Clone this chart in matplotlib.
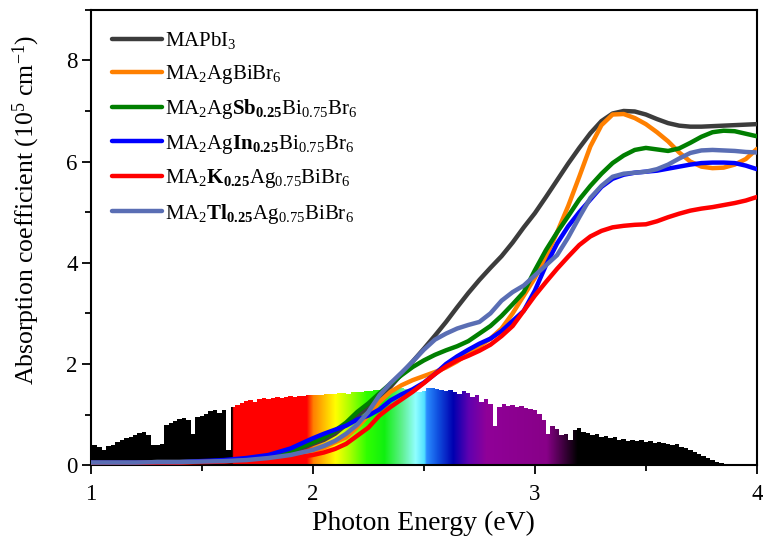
import numpy as np
import matplotlib
matplotlib.use("Agg")
import matplotlib.pyplot as plt
from matplotlib.colors import LinearSegmentedColormap
from matplotlib.ticker import MultipleLocator

plt.rcParams['font.family'] = ['Liberation Serif', 'DejaVu Serif']
plt.rcParams['mathtext.fontset'] = 'custom'
plt.rcParams['mathtext.rm'] = 'Liberation Serif'
plt.rcParams['mathtext.it'] = 'Liberation Serif:italic'
plt.rcParams['mathtext.bf'] = 'Liberation Serif:bold'

# photon energy grid for the absorption curves (eV)
energy = [1.0, 1.1, 1.2, 1.3, 1.4, 1.5, 1.6, 1.7, 1.8, 1.9,
          2.0, 2.05, 2.1, 2.15, 2.2, 2.25, 2.3, 2.35, 2.4, 2.45,
          2.5, 2.55, 2.6, 2.65, 2.7, 2.75, 2.8, 2.85, 2.9, 2.95,
          3.0, 3.05, 3.1, 3.15, 3.2, 3.25, 3.3, 3.35, 3.4, 3.45,
          3.5, 3.55, 3.6, 3.65, 3.7, 3.75, 3.8, 3.85, 3.9, 3.95, 4.0]

mapbi3 = [0.05, 0.05, 0.05, 0.06, 0.06, 0.07, 0.09, 0.11, 0.15, 0.25,
          0.42, 0.50, 0.62, 0.80, 0.97, 1.15, 1.34, 1.55, 1.80, 2.05,
          2.30, 2.56, 2.83, 3.12, 3.40, 3.66, 3.90, 4.13, 4.40, 4.70,
          4.98, 5.30, 5.63, 5.96, 6.27, 6.56, 6.80, 6.95, 7.00, 6.99,
          6.93, 6.84, 6.76, 6.71, 6.69, 6.69, 6.70, 6.71, 6.72, 6.73, 6.74]

agbi = [0.05, 0.05, 0.05, 0.06, 0.06, 0.07, 0.08, 0.10, 0.13, 0.19,
        0.28, 0.35, 0.45, 0.55, 0.75, 0.98, 1.25, 1.45, 1.58, 1.68,
        1.76, 1.84, 1.93, 2.05, 2.20, 2.35, 2.50, 2.70, 3.00, 3.35,
        3.70, 4.12, 4.60, 5.12, 5.70, 6.30, 6.72, 6.93, 6.94, 6.86,
        6.74, 6.58, 6.40, 6.18, 6.00, 5.90, 5.87, 5.88, 5.94, 6.05, 6.25]

sb = [0.05, 0.05, 0.05, 0.06, 0.06, 0.07, 0.09, 0.12, 0.17, 0.27,
      0.45, 0.55, 0.68, 0.84, 1.05, 1.22, 1.42, 1.61, 1.78, 1.94,
      2.07, 2.18, 2.27, 2.35, 2.45, 2.60, 2.75, 2.95, 3.18, 3.42,
      3.85, 4.25, 4.60, 4.92, 5.25, 5.52, 5.76, 5.97, 6.12, 6.23,
      6.27, 6.24, 6.21, 6.26, 6.37, 6.49, 6.58, 6.61, 6.60, 6.55, 6.50]

inn = [0.05, 0.05, 0.05, 0.06, 0.06, 0.08, 0.10, 0.14, 0.20, 0.33,
       0.53, 0.62, 0.70, 0.78, 0.90, 0.98, 1.10, 1.28, 1.40, 1.50,
       1.63, 1.80, 2.00, 2.15, 2.28, 2.40, 2.50, 2.65, 2.85, 3.05,
       3.45, 3.95, 4.38, 4.72, 5.00, 5.25, 5.50, 5.66, 5.74, 5.78,
       5.80, 5.82, 5.86, 5.90, 5.94, 5.97, 5.98, 5.98, 5.97, 5.92, 5.85]

k = [0.04, 0.04, 0.04, 0.05, 0.05, 0.06, 0.07, 0.09, 0.10, 0.14,
     0.20, 0.25, 0.32, 0.42, 0.58, 0.74, 0.98, 1.15, 1.30, 1.45,
     1.62, 1.80, 1.95, 2.07, 2.16, 2.26, 2.38, 2.55, 2.75, 3.05,
     3.35, 3.62, 3.88, 4.12, 4.35, 4.52, 4.63, 4.70, 4.73, 4.75,
     4.76, 4.82, 4.90, 4.97, 5.03, 5.07, 5.10, 5.14, 5.18, 5.23, 5.30]

tl = [0.05, 0.05, 0.05, 0.06, 0.06, 0.07, 0.08, 0.10, 0.14, 0.20,
      0.30, 0.38, 0.48, 0.62, 0.80, 1.05, 1.38, 1.62, 1.83, 2.05,
      2.28, 2.48, 2.60, 2.70, 2.77, 2.83, 3.00, 3.25, 3.42, 3.55,
      3.75, 3.95, 4.15, 4.50, 4.90, 5.28, 5.52, 5.70, 5.76, 5.78,
      5.80, 5.85, 5.94, 6.06, 6.17, 6.22, 6.23, 6.22, 6.21, 6.19, 6.18]

labels = [r'MAPbI$_3$',
          r'MA$_2$AgBiBr$_6$',
          r'MA$_2$Ag$\mathbf{Sb_{0.25}}$Bi$_{0.75}$Br$_6$',
          r'MA$_2$Ag$\mathbf{In_{0.25}}$Bi$_{0.75}$Br$_6$',
          r'MA$_2$$\mathbf{K_{0.25}}$Ag$_{0.75}$BiBr$_6$',
          r'MA$_2$$\mathbf{Tl_{0.25}}$Ag$_{0.75}$BiBr$_6$']
colors = ['#3c3c3c', '#ff8000', '#007f00', '#0000ff', '#ff0000', '#5a6eb4']

# solar spectrum (arb. units, scaled to the axis) vs photon energy
sun_e = [1.00, 1.02, 1.04, 1.06, 1.08, 1.10, 1.12, 1.14, 1.16, 1.18,
         1.20, 1.22, 1.24, 1.26, 1.28, 1.30, 1.32, 1.34, 1.36, 1.38,
         1.40, 1.42, 1.44, 1.46, 1.48, 1.50, 1.52, 1.54, 1.56, 1.58,
         1.60, 1.62, 1.64, 1.66, 1.68, 1.70, 1.72, 1.74, 1.76, 1.78,
         1.80, 1.82, 1.84, 1.86, 1.88, 1.90, 1.92, 1.94, 1.96, 1.98,
         2.00, 2.02, 2.04, 2.06, 2.08, 2.10, 2.12, 2.14, 2.16, 2.18,
         2.20, 2.22, 2.24, 2.26, 2.28, 2.30, 2.32, 2.34, 2.36, 2.38,
         2.40, 2.42, 2.44, 2.46, 2.48, 2.50, 2.52, 2.54, 2.56, 2.58,
         2.60, 2.62, 2.64, 2.66, 2.68, 2.70, 2.72, 2.74, 2.76, 2.78,
         2.80, 2.82, 2.84, 2.86, 2.88, 2.90, 2.92, 2.94, 2.96, 2.98,
         3.00, 3.02, 3.04, 3.06, 3.08, 3.10, 3.12, 3.14, 3.16, 3.18,
         3.20, 3.22, 3.24, 3.26, 3.28, 3.30, 3.32, 3.34, 3.36, 3.38,
         3.40, 3.42, 3.44, 3.46, 3.48, 3.50, 3.52, 3.54, 3.56, 3.58,
         3.60, 3.62, 3.64, 3.66, 3.68, 3.70, 3.72, 3.74, 3.76, 3.78,
         3.80, 3.82, 3.84, 3.86, 3.88]
sun_i = [0.39, 0.40, 0.36, 0.30, 0.38, 0.40, 0.46, 0.50, 0.53, 0.56,
         0.60, 0.63, 0.66, 0.60, 0.40, 0.39, 0.42, 0.80, 0.84, 0.88,
         0.92, 0.94, 0.90, 0.62, 0.95, 0.98, 1.02, 1.06, 1.08, 1.04,
         1.08, 0.30, 1.14, 1.18, 1.22, 1.26, 1.28, 1.24, 1.30, 1.32,
         1.30, 1.33, 1.34, 1.32, 1.35, 1.36, 1.34, 1.36, 1.37, 1.38,
         1.38, 1.39, 1.38, 1.40, 1.41, 1.40, 1.42, 1.43, 1.41, 1.44,
         1.45, 1.44, 1.46, 1.47, 1.48, 1.48, 1.50, 1.49, 1.50, 1.51,
         1.52, 1.51, 1.50, 1.46, 1.45, 1.47, 1.53, 1.52, 1.50, 1.49,
         1.47, 1.48, 1.45, 1.40, 1.46, 1.42, 1.35, 1.38, 1.25, 1.30,
         1.20, 0.78, 1.15, 1.20, 1.17, 1.18, 1.14, 1.16, 1.12, 1.10,
         1.08, 1.02, 0.90, 0.62, 0.78, 0.72, 0.60, 0.62, 0.50, 0.70,
         0.74, 0.66, 0.64, 0.60, 0.62, 0.55, 0.57, 0.53, 0.55, 0.50,
         0.52, 0.48, 0.50, 0.47, 0.49, 0.45, 0.47, 0.44, 0.45, 0.43,
         0.42, 0.40, 0.41, 0.36, 0.33, 0.29, 0.26, 0.22, 0.18, 0.14,
         0.10, 0.07, 0.04, 0.02, 0.00]

# colour of the spectrum at each photon energy
stop_e = [1.00, 1.635, 1.64, 1.97, 2.00, 2.05, 2.10, 2.16, 2.24, 2.32,
          2.40, 2.46, 2.50, 2.51, 2.56, 2.63, 2.70, 2.78, 3.05, 3.19, 4.00]
stop_c = ['#000000', '#000000', '#ff0000', '#ff0000', '#ff8000', '#ffc000',
          '#ffff00', '#b0ff00', '#30ff00', '#10f010', '#60f090', '#90ffff',
          '#50e0ff', '#2a8cff', '#1050e0', '#0000b0', '#6000b0', '#900098',
          '#880088', '#000000', '#000000']

fig = plt.figure(figsize=(7.63, 5.44), dpi=100)
ax = fig.add_axes([0.119, 0.145, 0.873, 0.837])

cmap = LinearSegmentedColormap.from_list(
    'sun', [((e - 1.0) / 3.0, c) for e, c in zip(stop_e, stop_c)], N=1024)
fill = ax.fill_between(sun_e, 0, sun_i, step='mid', color='none', lw=0)
grad = np.linspace(0, 1, 1024).reshape(1, -1)
img = ax.imshow(grad, cmap=cmap, aspect='auto', extent=[1, 4, 0, 1.7],
                origin='lower', zorder=1)
img.set_clip_path(fill.get_paths()[0], transform=ax.transData)

series = [mapbi3, agbi, sb, inn, k, tl]
for vals, c, lab in zip(series, colors, labels):
    ax.plot(energy, vals, color=c, lw=3.2, label=lab, zorder=3,
            solid_capstyle='round')

ax.set_xlim(1, 4)
ax.set_ylim(0, 9)
ax.xaxis.set_major_locator(MultipleLocator(1))
ax.xaxis.set_minor_locator(MultipleLocator(0.5))
ax.yaxis.set_major_locator(MultipleLocator(2))
ax.yaxis.set_minor_locator(MultipleLocator(1))
ax.tick_params(which='both', direction='out', width=1.3, labelsize=16.5,
               top=False, right=False)
ax.tick_params(which='major', length=6.5)
ax.tick_params(which='minor', length=4)
ax.tick_params(axis='x', which='major', pad=7)
ax.tick_params(axis='y', which='major', pad=3)
for sp in ax.spines.values():
    sp.set_linewidth(1.5)

ax.set_xlabel('Photon Energy (eV)', fontsize=20, labelpad=4)
ax.set_ylabel('Absorption coefficient (10$^5$ cm$^{-1}$)', fontsize=18.5)
ax.yaxis.set_label_coords(-0.074, 0.56)

ax.legend(loc='upper left', frameon=False, fontsize=15, handlelength=2.4,
          handletextpad=0.15, labelspacing=0.55, borderaxespad=0.5,
          bbox_to_anchor=(0.004, 0.996))

fig.savefig('out.png', dpi=100)
